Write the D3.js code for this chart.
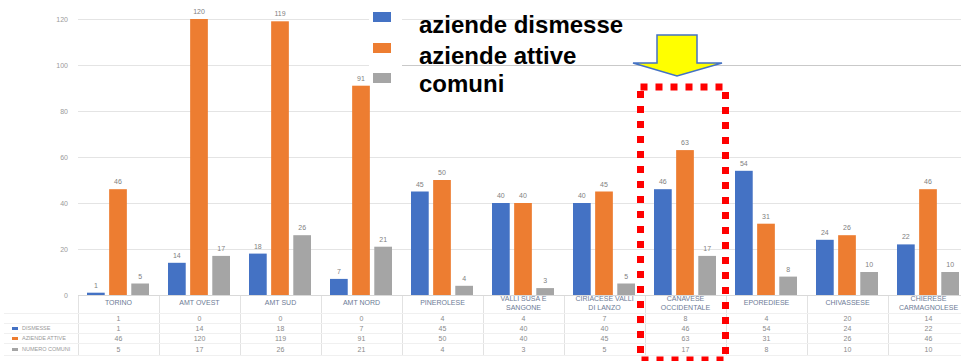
<!DOCTYPE html>
<html>
<head>
<meta charset="utf-8">
<script src="https://cdn.jsdelivr.net/npm/d3@7"></script>
<style>
  body { margin: 0; background: #fff; }
  svg { display: block; font-family: "Liberation Sans", Arial, sans-serif; }
</style>
</head>
<body>
<svg id="chart" width="961" height="361"></svg>
<script>
// Aziende per ambito territoriale
const categories = ["TORINO", "AMT OVEST", "AMT SUD", "AMT NORD", "PINEROLESE",
  "VALLI SUSA E SANGONE", "CIRIACESE VALLI DI LANZO", "CANAVESE OCCIDENTALE",
  "EPOREDIESE", "CHIVASSESE", "CHIERESE CARMAGNOLESE"];
const categoryLines = [["TORINO"], ["AMT OVEST"], ["AMT SUD"], ["AMT NORD"], ["PINEROLESE"],
  ["VALLI SUSA E", "SANGONE"], ["CIRIACESE   VALLI", "DI LANZO"], ["CANAVESE", "OCCIDENTALE"],
  ["EPOREDIESE"], ["CHIVASSESE"], ["CHIERESE", "CARMAGNOLESE"]];
const seriesNames = ["aziende dismesse", "aziende attive", "comuni"];
const seriesColors = ["#4472C4", "#ED7D31", "#A5A5A5"];
const dismesse = [1, 14, 18, 7, 45, 40, 40, 46, 54, 24, 22];
const attive = [46, 120, 119, 91, 50, 40, 45, 63, 31, 26, 46];
const comuni = [5, 17, 26, 21, 4, 3, 5, 17, 8, 10, 10];
const extraRow = [1, 0, 0, 0, 4, 4, 7, 8, 4, 20, 14];
const tableRowLabels = ["", "DISMESSE", "AZIENDE ATTIVE", "NUMERO COMUNI"];
const yTicks = [0, 20, 40, 60, 80, 100, 120];

const seriesValues = [dismesse, attive, comuni];

const svg = d3.select("#chart");

const x = d3.scaleBand().domain(categories).range([78, 969]).padding(0);
const xs = d3.scaleBand().domain(seriesNames).range([9, 71]).paddingInner(0.2);
const y = d3.scaleLinear().domain([0, 120]).range([295, 19]);

// gridlines
svg.append("g").selectAll("line").data(yTicks.slice(1)).join("line")
  .attr("x1", 78).attr("x2", 961)
  .attr("y1", d => Math.round(y(d)) + 0.5).attr("y2", d => Math.round(y(d)) + 0.5)
  .attr("stroke", "#e4e4e4").attr("stroke-width", 1);

// legend panel background (sits behind the bars)
svg.append("rect").attr("x", 369).attr("y", 0).attr("width", 33).attr("height", 86).attr("fill", "#fff");
svg.append("line").attr("x1", 402).attr("x2", 961).attr("y1", 65.5).attr("y2", 65.5)
  .attr("stroke", "#c9c9c9");

// y axis labels
const yAxis = d3.axisLeft(y).tickValues(yTicks).tickSize(0).tickPadding(0);
const gy = svg.append("g").attr("transform", "translate(68,0)").call(yAxis);
gy.select(".domain").remove();
gy.selectAll("text").attr("font-size", 7).attr("fill", "#9a9a9a")
  .attr("font-family", "Liberation Sans, Arial, sans-serif");

// bars
const groups = svg.append("g").selectAll("g").data(categories).join("g")
  .attr("transform", d => `translate(${x(d)},0)`);

groups.each(function (cat, ci) {
  const g = d3.select(this);
  seriesNames.forEach((s, si) => {
    const v = seriesValues[si][ci];
    g.append("rect")
      .attr("x", xs(s)).attr("width", xs.bandwidth())
      .attr("y", y(v)).attr("height", y(0) - y(v))
      .attr("fill", seriesColors[si]);
    g.append("text")
      .attr("x", xs(s) + xs.bandwidth() / 2).attr("y", y(v) - 5)
      .attr("text-anchor", "middle").attr("font-size", 7).attr("fill", "#7f7f7f")
      .text(v);
  });
});

// baseline
svg.append("line").attr("x1", 78).attr("x2", 961)
  .attr("y1", y(0) + 0.5).attr("y2", y(0) + 0.5).attr("stroke", "#d9d9d9");

// data table below the axis
const table = svg.append("g");
const tableTop = 296, tableBottom = 355;
const rowY = [318, 328, 338, 349];
const tableRows = [extraRow, dismesse, attive, comuni];

table.selectAll("line.v").data(categories).join("line")
  .attr("class", "v")
  .attr("x1", d => x(d) + 0.5).attr("x2", d => x(d) + 0.5)
  .attr("y1", tableTop).attr("y2", tableBottom)
  .attr("stroke", "#e2e2e2");
[313, 323, 333, 343, tableBottom].forEach(ly => {
  table.append("line").attr("x1", 4).attr("x2", 961)
    .attr("y1", ly + 0.5).attr("y2", ly + 0.5).attr("stroke", "#f0f0f0");
});

categories.forEach((c, ci) => {
  const cx = x(c) + x.bandwidth() / 2;
  const lines = categoryLines[ci];
  lines.forEach((t, li) => {
    table.append("text")
      .attr("x", cx)
      .attr("y", lines.length === 1 ? 305 : 301 + li * 9)
      .attr("text-anchor", "middle").attr("font-size", 7).attr("fill", "#6d7b96")
      .text(t);
  });
  tableRows.forEach((row, ri) => {
    table.append("text")
      .attr("x", cx).attr("y", rowY[ri] + 2.5)
      .attr("text-anchor", "middle").attr("font-size", 7).attr("fill", "#8a8a8a")
      .text(row[ci]);
  });
});

tableRowLabels.forEach((t, ri) => {
  if (!t) return;
  table.append("rect").attr("x", 12).attr("y", rowY[ri] - 1)
    .attr("width", 6).attr("height", 3).attr("fill", seriesColors[ri - 1]);
  table.append("text").attr("x", 22).attr("y", rowY[ri] + 2)
    .attr("font-size", 5.5).attr("fill", "#9a9a9a").text(t);
});

// legend
const legendY = [12, 43, 73];
const legendBaseline = [33, 64, 92];
seriesNames.forEach((s, i) => {
  svg.append("rect").attr("x", 373).attr("y", legendY[i])
    .attr("width", 18).attr("height", 10).attr("fill", seriesColors[i]);
  svg.append("text").attr("x", 419).attr("y", legendBaseline[i])
    .attr("font-size", 24).attr("font-weight", "bold").attr("fill", "#000")
    .text(s);
});

// pointer arrow
svg.append("path")
  .attr("d", "M657,35 L697,35 L697,63 L722,63 L677,76 L633,63 L657,63 Z")
  .attr("fill", "#FFFF00").attr("stroke", "#4472C4").attr("stroke-width", 1.5)
  .attr("stroke-linejoin", "miter");

// highlight frame
svg.append("rect")
  .attr("x", 640.5).attr("y", 87).attr("width", 85).attr("height", 273)
  .attr("fill", "none").attr("stroke", "#FF0000").attr("stroke-width", 7)
  .attr("stroke-dasharray", "7 8");
</script>
</body>
</html>
